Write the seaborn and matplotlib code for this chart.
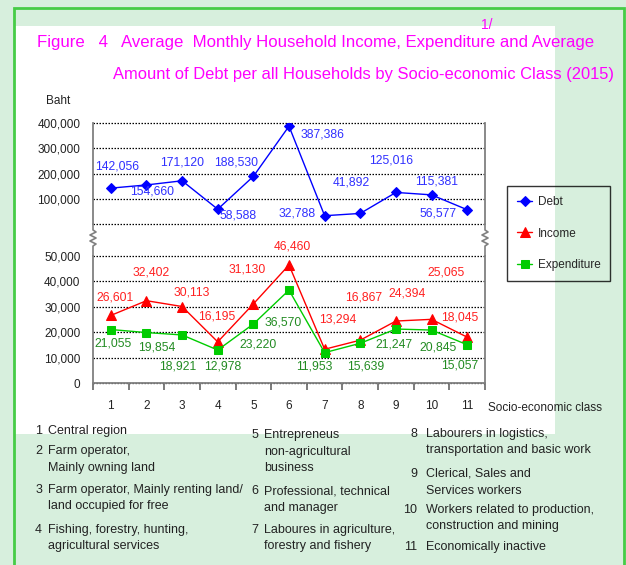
import matplotlib
matplotlib.use("Agg")
import matplotlib.pyplot as plt
from matplotlib import font_manager
from matplotlib.patches import Rectangle
from matplotlib.lines import Line2D
import numpy as np
import pandas as pd
import seaborn as sns

# data
classes = list(range(1, 12))
debt = [142056, 154660, 171120, 58588, 188530, 387386, 32788, 41892, 125016, 115381, 56577]
income = [26601, 32402, 30113, 16195, 31130, 46460, 13294, 16867, 24394, 25065, 18045]
expenditure = [21055, 19854, 18921, 12978, 23220, 36570, 11953, 15639, 21247, 20845, 15057]

class_notes = [
    ["Central region"],
    ["Farm operator,", "Mainly owning land"],
    ["Farm operator, Mainly renting land/", "land occupied for free"],
    ["Fishing, forestry, hunting,", "agricultural services"],
    ["Entrepreneus", "non-agricultural", "business"],
    ["Professional, technical", "and manager"],
    ["Laboures in agriculture,", "forestry and fishery"],
    ["Labourers in logistics,", "transportation and basic work"],
    ["Clerical, Sales and", "Services workers"],
    ["Workers related to production,", "construction and mining"],
    ["Economically inactive"],
]

# label offsets in pixels (dx right, dy down) relative to each point
debt_off = [(6, -22), (6, 7), (0, -18), (20, 6), (-17, -14), (33, 8), (-28, -2), (-9, -31), (-5, -32), (5, -13), (-29, 4)]
inc_off = [(4, -18), (5, -28), (10, -14), (-1, -25), (-6, -34), (3, -18), (13, -30), (3, -43), (11, -28), (15, -47), (-7, -20)]
exp_off = [(2, 14), (10, 15), (-4, 32), (5, 16), (5, 20), (-6, 32), (-10, 14), (5, 23), (-2, 15), (7, 17), (-7, 21)]

W, H = 626, 565
names = {f.name for f in font_manager.fontManager.ttflist}
NARROW = "Liberation Sans Narrow" if "Liberation Sans Narrow" in names else "Liberation Sans"
NUM = "Liberation Sans"

sns.set_style("white")
plt.rcParams["font.family"] = [NUM, "DejaVu Sans"]

df = pd.DataFrame({"cls": classes, "Debt": debt, "Income": income, "Expenditure": expenditure})

fig = plt.figure(figsize=(W / 100, H / 100), dpi=100)
fig.patch.set_facecolor("#d7efdd")


def rect(x0, y0, x1, y1):
    return [x0 / W, 1 - y1 / H, (x1 - x0) / W, (y1 - y0) / H]


def fx(x):
    return x / W


def fy(y):
    return 1 - y / H


# backgrounds
fig.add_artist(Rectangle((fx(15), fy(434)), (555 - 15) / W, (434 - 26) / H,
                         transform=fig.transFigure, facecolor="white", edgecolor="none", zorder=0))
fig.add_artist(Rectangle((fx(14), fy(575)), (624 - 14) / W, (575 - 8) / H,
                         transform=fig.transFigure, facecolor="none", edgecolor="#46cc46", lw=2, zorder=1))

ax_top = fig.add_axes(rect(93, 123, 485, 224))
ax_bot = fig.add_axes(rect(93, 256, 485, 383))

sns.lineplot(data=df, x="cls", y="Debt", ax=ax_top, color="#0000ff", marker="D", markersize=5,
             markeredgecolor="#0000ff", lw=1, label="Debt")
sns.lineplot(data=df, x="cls", y="Income", ax=ax_bot, color="#ff0000", marker="^", markersize=7,
             markeredgecolor="#ff0000", lw=1, label="Income")
sns.lineplot(data=df, x="cls", y="Expenditure", ax=ax_bot, color="#00cc00", marker="s", markersize=6,
             markeredgecolor="#00cc00", lw=1, label="Expenditure")

for ax in (ax_top, ax_bot):
    ax.patch.set_alpha(0)
    ax.set_xlim(0.5, 11.5)
    ax.set_xlabel("")
    ax.set_ylabel("")
    ax.yaxis.grid(True, linestyle=(0, (1.2, 1.2)), color="black", lw=0.9)
    ax.xaxis.grid(False)
    ax.tick_params(axis="y", length=0, labelsize=8.5, pad=9, labelcolor="#222222")
    for s in ("left", "right"):
        ax.spines[s].set_color("#808080")
        ax.spines[s].set_lw(1.3)
    ax.spines["top"].set_visible(False)
    ax.get_legend().remove()

ax_top.set_ylim(0, 400000)
ax_top.set_yticks([0, 100000, 200000, 300000, 400000])
ax_top.set_yticklabels(["", "100,000", "200,000", "300,000", "400,000"])
ax_top.spines["bottom"].set_visible(False)
ax_top.set_xticks([])

ax_bot.set_ylim(0, 50000)
ax_bot.set_yticks(range(0, 50001, 10000))
ax_bot.set_yticklabels([f"{v:,}" for v in range(0, 50001, 10000)])
ax_bot.spines["bottom"].set_color("#808080")
ax_bot.spines["bottom"].set_lw(1.3)
ax_bot.set_xticks(classes)
ax_bot.set_xticklabels([str(c) for c in classes])
ax_bot.set_xticks(np.arange(0.5, 12, 1), minor=True)
ax_bot.tick_params(axis="x", which="major", length=0, pad=12, labelsize=8.5, labelcolor="#222222")
ax_bot.tick_params(axis="x", which="minor", length=5, width=1.2, color="#666666", direction="out", bottom=True)

for ax in (ax_top, ax_bot):
    for gl in ax.get_ygridlines():
        gl.set_clip_on(False)

# value labels
for i, c in enumerate(classes):
    dx, dy = debt_off[i]
    ax_top.annotate(f"{debt[i]:,}", (c, debt[i]), xytext=(dx, -dy), textcoords="offset pixels",
                    ha="center", va="center", color="#3030ff", fontsize=8.7)
    dx, dy = inc_off[i]
    ax_bot.annotate(f"{income[i]:,}", (c, income[i]), xytext=(dx, -dy), textcoords="offset pixels",
                    ha="center", va="center", color="#ff2020", fontsize=8.7)
    dx, dy = exp_off[i]
    ax_bot.annotate(f"{expenditure[i]:,}", (c, expenditure[i]), xytext=(dx, -dy), textcoords="offset pixels",
                    ha="center", va="center", color="#228b22", fontsize=8.7)

# axis break zigzags
for xb in (93, 485):
    xs = [xb, xb, xb + 3, xb - 3, xb + 3, xb - 3, xb + 3, xb, xb]
    ys = [224, 230, 232, 235, 238, 241, 244, 246, 256]
    fig.add_artist(Line2D([fx(v) for v in xs], [fy(v) for v in ys], transform=fig.transFigure,
                          color="#808080", lw=1.2))

# legend
handles = ax_top.get_lines()[:1] + ax_bot.get_lines()[:2]
leg = fig.legend(handles, ["Debt", "Income", "Expenditure"], loc="upper left",
                 bbox_to_anchor=(fx(507), fy(186)), borderaxespad=0, frameon=True, fancybox=False,
                 facecolor="none", edgecolor="black", labelspacing=1.65,
                 handlelength=1.3, borderpad=0.85, handletextpad=0.45,
                 prop={"family": NARROW, "size": 8.5})
leg.get_frame().set_linewidth(1.0)

# titles and labels
fig.text(fx(37), fy(43), "Figure   4   Average  Monthly Household Income, Expenditure and Average",
         color="#ff00ff", fontsize=12.1, family=NARROW, va="center", ha="left")
fig.text(fx(113), fy(74), "Amount of Debt per all Households by Socio-economic Class (2015)",
         color="#ff00ff", fontsize=11.9, family=NARROW, va="center", ha="left")
fig.text(fx(481), fy(25), "1/", color="#ff00ff", fontsize=10, family=NARROW, va="center", ha="left")
fig.text(fx(58), fy(101), "Baht", fontsize=8.5, family=NARROW, va="center", ha="center", color="#222222")
fig.text(fx(488), fy(408), "Socio-economic class", fontsize=8.5, family=NARROW, va="center", ha="left",
         color="#222222")

# class notes
note_num_x = [42] * 4 + [258] * 3 + [417] * 4
note_txt_x = [48] * 4 + [264] * 3 + [426] * 4
note_y = [431, 451, 490, 530, 435, 491, 530, 434, 474, 510, 547]
for k, lines in enumerate(class_notes):
    fig.text(fx(note_num_x[k]), fy(note_y[k]), str(k + 1), fontsize=9, family=NARROW,
             ha="right", va="center", color="#222222")
    for j, line in enumerate(lines):
        fig.text(fx(note_txt_x[k]), fy(note_y[k] + j * 16.5), line, fontsize=9, family=NARROW,
                 ha="left", va="center", color="#222222")

fig.savefig("out.png", dpi=100, facecolor=fig.get_facecolor())
